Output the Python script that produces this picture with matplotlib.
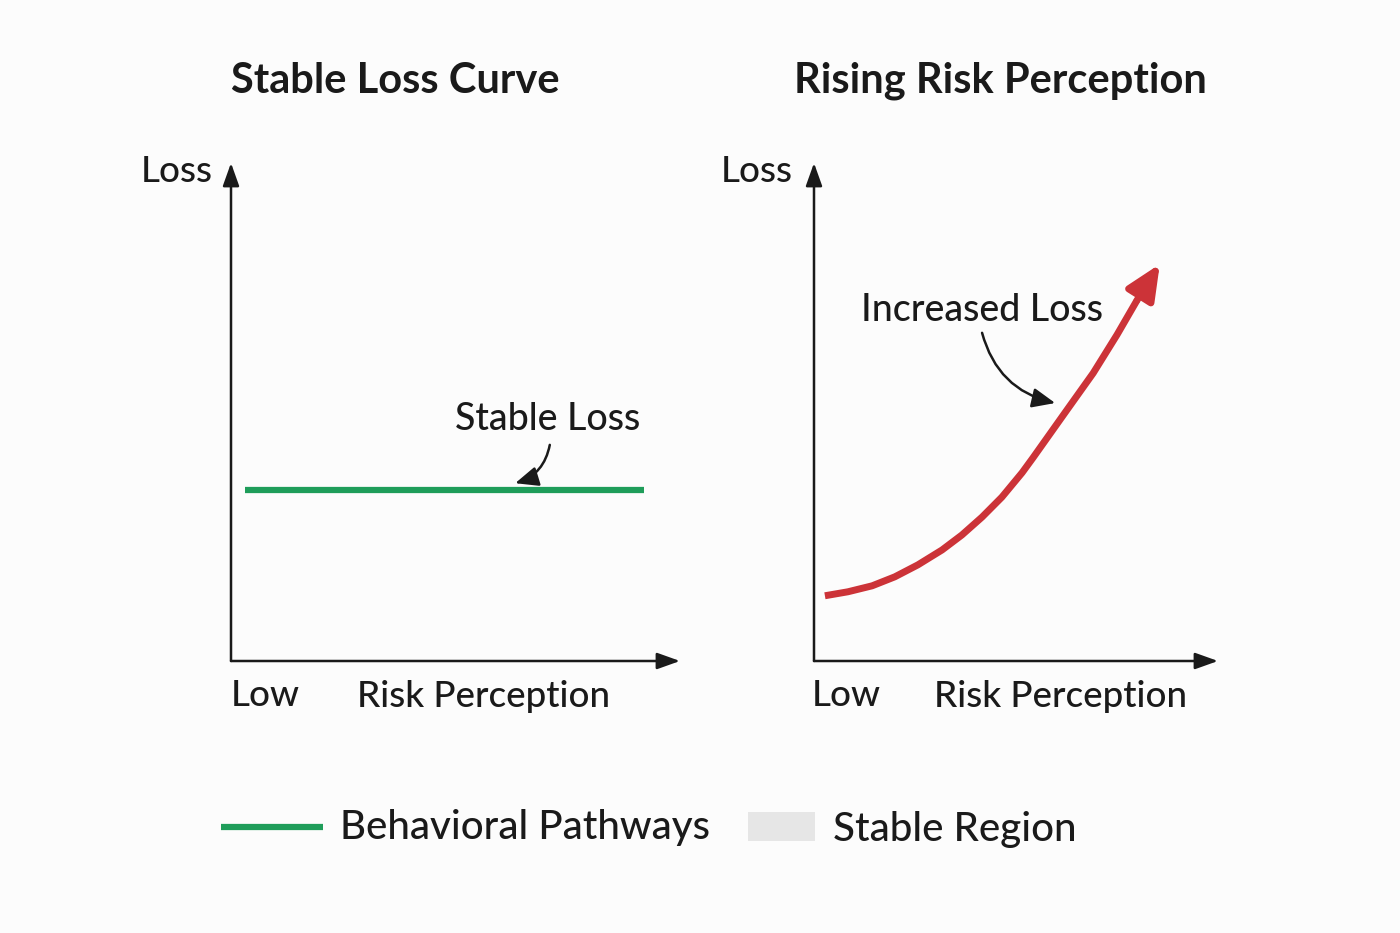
import numpy as np
import matplotlib
matplotlib.use("Agg")
import matplotlib.pyplot as plt
from matplotlib.lines import Line2D
from matplotlib.patches import Rectangle

plt.rcParams['font.family'] = ['Lato', 'DejaVu Sans']

# --- data (axes units, 0..1 along each arrow axis) ---
titles = ["Stable Loss Curve", "Rising Risk Perception"]
y_label = "Loss"
x_label = "Risk Perception"
x_low = "Low"

stable_x = [0.031, 0.92]
stable_y = [0.343, 0.343]

rising_x = [0.027, 0.084, 0.144, 0.200, 0.257, 0.317, 0.366, 0.416, 0.465,
            0.515, 0.542, 0.626, 0.691, 0.750, 0.800, 0.856]
rising_y = [0.131, 0.139, 0.151, 0.169, 0.193, 0.223, 0.253, 0.289, 0.329,
            0.378, 0.408, 0.504, 0.578, 0.655, 0.725, 0.797]

legend_labels = ["Behavioral Pathways", "Stable Region"]

GREEN = "#1f9d5a"
RED = "#cc3338"
INK = "#1a1a1a"
BG = "#fcfcfc"
TXT = dict(color=INK, fontweight="medium")

fig = plt.figure(figsize=(14, 9.33), dpi=100, facecolor=BG)

ax_l = fig.add_axes([231 / 1400, 272 / 933, 449 / 1400, 498 / 933])
ax_r = fig.add_axes([814 / 1400, 272 / 933, 404 / 1400, 498 / 933])


def _frame(ax):
    ax.set_xlim(0, 1)
    ax.set_ylim(0, 1)
    ax.axis("off")
    for end in [(1, 0), (0, 1)]:
        ax.annotate("", xy=end, xytext=(0, 0),
                    arrowprops=dict(arrowstyle="-|>,head_length=1.4,head_width=0.5",
                                    color=INK, lw=1.8, shrinkA=0, shrinkB=0),
                    annotation_clip=False)


def _labels(ax, loss_x, low_x, risk_x):
    ax.text(loss_x, 0.982, y_label, ha="right", va="center", fontsize=26.5, **TXT)
    ax.text(low_x, -0.07, x_low, ha="left", va="center", fontsize=26.5, **TXT)
    ax.text(risk_x, -0.072, x_label, ha="left", va="center", fontsize=26.5, **TXT)


_frame(ax_l)
_frame(ax_r)

_labels(ax_l, -0.04, 0.0, 0.281)
_labels(ax_r, -0.052, -0.005, 0.297)

fig.text(395 / 1400, 1 - 81 / 933, titles[0], ha="center", va="center",
         fontsize=30, fontweight="bold", color=INK)
fig.text(1000 / 1400, 1 - 81 / 933, titles[1], ha="center", va="center",
         fontsize=30, fontweight="bold", color=INK)

# left panel: flat line
ax_l.plot(stable_x, stable_y, color=GREEN, lw=4.5, solid_capstyle="butt", clip_on=False)
ax_l.text(0.706, 0.484, "Stable Loss", ha="center", va="center", fontsize=27, **TXT)
ax_l.annotate("", xy=(0.633, 0.357), xytext=(0.71, 0.434),
              arrowprops=dict(arrowstyle="-|>,head_length=1.4,head_width=0.6",
                              connectionstyle="arc3,rad=-0.3", color=INK, lw=1.8,
                              shrinkA=0, shrinkB=0))

# right panel: rising curve with arrow head
ax_r.plot(rising_x[:-1], rising_y[:-1], color=RED, lw=5, solid_capstyle="butt",
          solid_joinstyle="round", clip_on=False)
ax_r.annotate("", xy=(rising_x[-1], rising_y[-1]), xytext=(rising_x[-2], rising_y[-2]),
              arrowprops=dict(arrowstyle="-|>,head_length=2.1,head_width=0.95",
                              color=RED, lw=5, shrinkA=0, shrinkB=0),
              annotation_clip=False)
ax_r.text(0.416, 0.703, "Increased Loss", ha="center", va="center", fontsize=27, **TXT)
ax_r.annotate("", xy=(0.597, 0.518), xytext=(0.416, 0.659),
              arrowprops=dict(arrowstyle="-|>,head_length=1.4,head_width=0.6",
                              connectionstyle="arc3,rad=0.3", color=INK, lw=1.8,
                              shrinkA=0, shrinkB=0))

# legend drawn by hand
ly = 1 - 827 / 933
fig.add_artist(Line2D([221 / 1400, 323 / 1400], [ly, ly], color=GREEN, lw=4.5,
                      solid_capstyle="butt", transform=fig.transFigure))
fig.text(340 / 1400, ly, legend_labels[0], ha="left", va="center", fontsize=29, **TXT)
fig.add_artist(Rectangle((748 / 1400, 1 - 841 / 933), 67 / 1400, 29 / 933,
                         facecolor="#e6e6e6", edgecolor="none", transform=fig.transFigure))
fig.text(833 / 1400, 1 - 829 / 933, legend_labels[1], ha="left", va="center", fontsize=29, **TXT)

fig.savefig("out.png", dpi=100, facecolor=BG)
